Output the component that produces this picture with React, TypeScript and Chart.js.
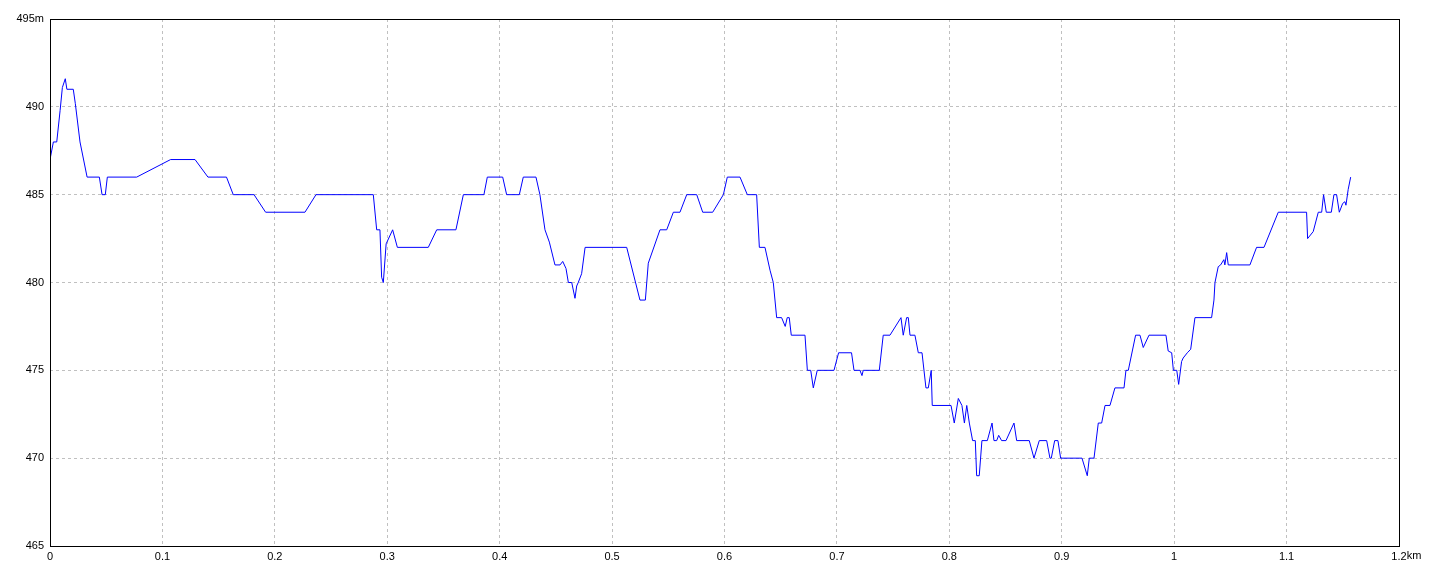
import React, { useEffect, useRef } from "react";
import { Chart, registerables } from "chart.js";

Chart.register(...registerables);

// distance along track (km)
const distanceKm: number[] = [
  0, 0.003, 0.006, 0.009, 0.011, 0.0136, 0.015, 0.0207, 0.0225, 0.0267,
  0.033, 0.0439, 0.0463, 0.0492, 0.051, 0.0771, 0.1073, 0.129, 0.1405, 0.157,
  0.163, 0.1815, 0.1918, 0.2268, 0.2366, 0.2876, 0.2906, 0.2935, 0.295, 0.2965,
  0.299, 0.3048, 0.309, 0.3365, 0.344, 0.3611, 0.3677, 0.386, 0.389, 0.4027,
  0.4062, 0.4175, 0.421, 0.4323, 0.4358, 0.4403, 0.4442, 0.4492, 0.4537, 0.4561,
  0.459, 0.4611, 0.4641, 0.467, 0.4685, 0.4699, 0.4729, 0.476, 0.513, 0.5248,
  0.5296, 0.5322, 0.5426, 0.5486, 0.5545, 0.5604, 0.5664, 0.5753, 0.5806, 0.5895,
  0.599, 0.6025, 0.6138, 0.6203, 0.6286, 0.631, 0.636, 0.6405, 0.6434, 0.6464,
  0.6508, 0.654, 0.6558, 0.6576, 0.6594, 0.6716, 0.6737, 0.6767, 0.679, 0.6825,
  0.6974, 0.7015, 0.713, 0.7152, 0.7205, 0.7223, 0.7234, 0.7377, 0.7412, 0.7472,
  0.757, 0.759, 0.762, 0.7635, 0.765, 0.7694, 0.7724, 0.7757, 0.7792, 0.7813,
  0.7839, 0.7848, 0.8015, 0.8044, 0.808, 0.8112, 0.8134, 0.8155, 0.8178, 0.8207,
  0.8231, 0.8243, 0.8266, 0.829, 0.8338, 0.838, 0.8397, 0.8421, 0.8439, 0.8465,
  0.8504, 0.8575, 0.8599, 0.8711, 0.8753, 0.88, 0.8866, 0.8895, 0.8907, 0.8937,
  0.8966, 0.899, 0.918, 0.9227, 0.9245, 0.9287, 0.9325, 0.9355, 0.9385, 0.9429,
  0.9473, 0.9554, 0.9571, 0.9592, 0.9657, 0.9696, 0.9725, 0.9776, 0.9927, 0.9947,
  0.9978, 0.9993, 1.0023, 1.004, 1.0066, 1.008, 1.0117, 1.0147, 1.0185, 1.0333,
  1.0354, 1.0363, 1.0392, 1.0413, 1.0442, 1.0451, 1.0467, 1.0481, 1.0674, 1.0733,
  1.0799, 1.0926, 1.1178, 1.1187, 1.1237, 1.1282, 1.1312, 1.1329, 1.1353, 1.1398,
  1.1421, 1.1445, 1.1469, 1.1499, 1.1519, 1.1528, 1.1548, 1.157,
];

// elevation (m)
const elevationM: number[] = [
  487, 488, 488, 489.8, 491.1, 491.6, 491, 491, 490.2, 488,
  486, 486, 485, 485, 486, 486, 487, 487, 486, 486,
  485, 485, 484, 484, 485, 485, 483, 483, 480.3, 480,
  482.2, 483, 482, 482, 483, 483, 485, 485, 486, 486,
  485, 485, 486, 486, 485, 483, 482.3, 481, 481, 481.2,
  480.8, 480, 480, 479.1, 479.8, 480, 480.5, 482, 482, 479,
  479, 481.1, 483, 483, 484, 484, 485, 485, 484, 484,
  485, 486, 486, 485, 485, 482, 482, 480.7, 480, 478,
  478, 477.5, 478, 478, 477, 477, 475, 475, 474, 475,
  475, 476, 476, 475, 475, 474.7, 475, 475, 477, 477,
  478, 477, 478, 478, 477, 477, 476, 476, 474, 474,
  475, 473, 473, 472, 473.4, 473, 472, 473, 472, 471,
  471, 469, 469, 471, 471, 472, 471, 471, 471.3, 471,
  471, 472, 471, 471, 470, 471, 471, 470, 470, 471,
  471, 470, 470, 469, 470, 470, 472, 472, 473, 473,
  474, 474, 475, 475, 477, 477, 476.3, 477, 477, 476.1,
  476, 475, 475, 474.2, 475.5, 475.7, 476, 476.2, 478, 478,
  479, 480, 480.9, 481, 481.3, 481, 481.7, 481, 481, 482,
  482, 484, 484, 482.5, 482.9, 484, 484, 485, 484, 484,
  485, 485, 484, 484.5, 484.6, 484.4, 485.3, 486,
];

const xMin = 0;
const xMax = 1.2;
const xStep = 0.1;
const yMin = 465;
const yMax = 495;
const yStep = 5;
const xUnit = "km";
const yUnit = "m";

const FONT = { family: "'Liberation Sans', Arial, sans-serif", size: 11 };
const X_TICK_PAD = 4;

const framePlugin = {
  id: "frame",
  afterDraw(chart: any) {
    const { ctx, chartArea } = chart;
    const { left, top, right, bottom } = chartArea;
    ctx.save();
    ctx.strokeStyle = "#000000";
    ctx.lineWidth = 1;
    ctx.setLineDash([]);
    ctx.strokeRect(left + 0.5, top + 0.5, right - left, bottom - top);
    // unit suffix after the last x tick label
    const xs = chart.scales.x;
    const lastLabel = String(Number(xMax.toFixed(1)));
    ctx.font = `${FONT.size}px ${FONT.family}`;
    const w = ctx.measureText(lastLabel).width;
    const px = xs.getPixelForValue(xMax);
    ctx.fillStyle = "#000000";
    ctx.textAlign = "left";
    ctx.textBaseline = "top";
    ctx.fillText(xUnit, px + w / 2, xs.top + X_TICK_PAD);
    ctx.restore();
  },
};

export default function App() {
  const canvasRef = useRef<HTMLCanvasElement | null>(null);

  useEffect(() => {
    const canvas = canvasRef.current;
    if (!canvas) return;
    const points = distanceKm.map((d, i) => ({ x: d, y: elevationM[i] }));
    const chart = new Chart(canvas, {
      type: "line",
      data: {
        datasets: [
          {
            data: points,
            borderColor: "#0000ff",
            borderWidth: 1,
            pointRadius: 0,
            tension: 0,
            fill: false,
          },
        ],
      },
      options: {
        animation: false,
        responsive: false,
        devicePixelRatio: 1,
        layout: { padding: { left: 0, top: 19, right: 41, bottom: 0 } },
        plugins: {
          legend: { display: false },
          tooltip: { enabled: false },
        },
        scales: {
          x: {
            type: "linear",
            min: xMin,
            max: xMax,
            afterFit(scale: any) {
              scale.height = 30;
            },
            ticks: {
              stepSize: xStep,
              autoSkip: false,
              maxRotation: 0,
              padding: X_TICK_PAD,
              color: "#000000",
              font: FONT,
              callback: (v: any) => String(Number(Number(v).toFixed(1))),
            },
            grid: {
              color: "#c0c0c0",
              lineWidth: 1,
              drawTicks: false,
            },
            border: { display: false, dash: [3, 3] },
          },
          y: {
            min: yMin,
            max: yMax,
            afterFit(scale: any) {
              scale.width = 50;
            },
            ticks: {
              stepSize: yStep,
              autoSkip: false,
              padding: 6,
              color: "#000000",
              font: FONT,
              callback: (v: any) =>
                Number(v) === yMax ? `${v}${yUnit}` : String(v),
            },
            grid: {
              color: "#c0c0c0",
              lineWidth: 1,
              drawTicks: false,
            },
            border: { display: false, dash: [3, 3] },
          },
        },
      },
      plugins: [framePlugin],
    });
    return () => chart.destroy();
  }, []);

  return (
    <div
      style={{
        position: "fixed",
        left: 0,
        top: 0,
        width: 1440,
        height: 576,
        background: "#ffffff",
      }}
    >
      <canvas ref={canvasRef} width={1440} height={576} />
    </div>
  );
}
